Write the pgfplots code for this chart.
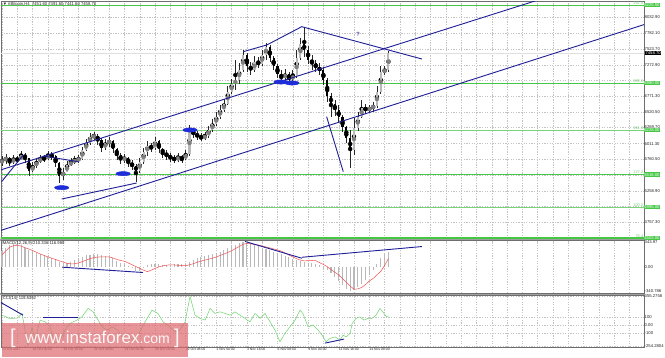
\documentclass[border=0pt]{standalone}
\usepackage{fontspec}
\setmainfont{Liberation Sans}
\usepackage{pgfplots}
\pgfplotsset{compat=1.18}
\usepackage{pgfplotstable}

\definecolor{navyl}{RGB}{30,30,150}
\definecolor{fibg}{RGB}{70,200,70}
\definecolor{fibl}{RGB}{120,210,120}
\definecolor{gridc}{RGB}{195,195,195}
\definecolor{framec}{RGB}{110,110,110}
\definecolor{macdh}{RGB}{185,185,185}
\definecolor{sigred}{RGB}{240,80,80}
\definecolor{ccig}{RGB}{110,210,110}
\definecolor{wm}{RGB}{222,105,110}
\definecolor{ellb}{RGB}{30,45,215}

\pgfplotstableread{
t o h l c
0 5702 5814 5654 5750
2 5750 5846 5686 5782
4 5782 5798 5654 5718
6 5718 5830 5686 5766
8 5766 5814 5702 5750
10 5750 5894 5750 5830
12 5830 5862 5702 5782
14 5782 5782 5494 5574
16 5574 5718 5558 5654
18 5654 5782 5622 5718
20 5718 5830 5702 5782
22 5782 5830 5718 5766
24 5766 5894 5750 5830
26 5830 5878 5750 5814
28 5814 5830 5638 5702
30 5702 5718 5382 5494
32 5494 5622 5430 5558
34 5558 5734 5558 5670
36 5670 5782 5654 5718
38 5718 5814 5686 5750
40 5750 5830 5702 5766
42 5766 5958 5750 5910
44 5910 6086 5894 6022
46 6022 6182 5990 6118
48 6118 6198 6070 6134
50 6134 6166 5990 6070
52 6070 6102 5878 5942
54 5942 6086 5910 6022
56 6022 6118 5958 6054
58 6054 6070 5862 5926
60 5926 5942 5750 5830
62 5830 5862 5686 5750
64 5750 5846 5702 5782
66 5782 5798 5638 5702
68 5702 5750 5590 5654
70 5654 5686 5398 5574
72 5574 5782 5542 5718
74 5718 5942 5686 5878
76 5878 6054 5814 5974
78 5974 6022 5878 5942
80 5942 6118 5910 6054
82 6054 6070 5862 5926
84 5926 5942 5782 5862
86 5862 5910 5750 5814
88 5814 5862 5718 5782
90 5782 5830 5702 5750
92 5750 5862 5718 5798
94 5798 5830 5702 5766
96 5766 5910 5750 5846
98 5846 6310 5814 6198
100 6198 6262 6102 6182
102 6182 6214 6070 6118
104 6118 6182 6054 6102
106 6102 6198 6070 6134
108 6134 6294 6102 6230
110 6230 6406 6198 6326
112 6326 6518 6294 6438
114 6438 6630 6406 6550
116 6550 6726 6518 6646
118 6646 6934 6630 6838
120 6838 7046 6806 6966
122 6966 7350 6870 7030
124 7030 7302 6966 7190
126 7190 7510 7158 7430
128 7430 7462 7158 7254
130 7254 7318 7110 7190
132 7190 7414 7158 7318
134 7318 7398 7222 7286
136 7286 7510 7254 7430
138 7430 7622 7350 7558
140 7558 7590 7318 7382
142 7382 7414 7190 7254
144 7254 7286 7062 7126
146 7126 7190 6966 7062
148 7062 7206 6998 7126
150 7126 7158 6966 7046
152 7046 7190 7014 7094
154 7094 7510 7062 7382
156 7382 7702 7350 7606
158 7606 7878 7398 7510
160 7510 7574 7286 7350
162 7350 7430 7190 7302
164 7302 7350 7158 7222
166 7222 7302 7110 7190
168 7190 7238 6950 7030
170 7030 7062 6678 6774
172 6774 6822 6438 6646
174 6646 6710 6454 6550
176 6550 6630 6342 6438
178 6438 6470 6198 6278
180 6278 6294 6022 6102
182 6102 6230 5622 5910
184 5910 6422 5830 6262
186 6262 6518 6214 6438
188 6438 6710 6422 6582
190 6582 6646 6486 6550
192 6550 6630 6502 6582
194 6582 6678 6518 6614
196 6614 6934 6582 6838
198 6838 7254 6806 7158
200 7158 7254 7110 7190
202 7190 7491.6 7158 7458.7
}\candles

\pgfplotstableread{
t hist sig
0 225 170
2 260 225
4 300 275
6 318 295
8 328 302
10 305 290
12 265 268
14 235 250
16 220 228
18 200 205
20 180 180
22 160 160
24 140 140
26 122 122
28 104 104
30 75 85
32 55 68
34 58 52
36 65 42
38 90 45
40 125 55
42 145 75
44 160 95
46 170 115
48 178 130
50 180 138
52 172 140
54 155 140
56 138 140
58 118 125
60 85 105
62 60 90
64 35 80
66 8 55
68 -20 30
70 -55 5
72 -60 -18
74 -20 -45
76 25 -65
78 42 -45
80 40 -20
82 35 2
84 30 15
86 30 25
88 32 30
90 35 28
92 38 24
94 42 20
96 46 17
98 75 30
100 95 45
102 120 65
104 140 82
106 155 95
108 170 108
110 185 123
112 200 138
114 215 160
116 240 180
118 265 202
120 285 225
122 310 255
124 335 285
126 344 315
128 340 328
130 335 322
132 315 312
134 290 305
136 270 292
138 250 278
140 235 265
142 215 250
144 195 238
146 175 220
148 155 195
150 135 165
152 110 140
154 95 115
156 80 95
158 70 85
160 60 88
162 52 90
164 42 88
166 31 60
168 5 35
170 -40 5
172 -90 -35
174 -143 -75
176 -195 -110
178 -250 -160
180 -300 -215
182 -341 -265
184 -320 -310
186 -285 -305
188 -235 -285
190 -175 -245
192 -110 -195
194 -45 -160
196 40 -110
198 130 -60
200 180 20
202 210.336 116.98
}\macd

\pgfplotstableread{
t cci
0 124
4 84
8 87
10.5 145
12 -60
13.6 -254.28
15.7 -20
17.3 -183
19.9 63
22.5 42
25.1 -20
27.7 -224
30.3 -183
32.9 -60
35.5 22
39.2 63
41.8 103
45 207
47.6 165
49.7 84
52.3 -20
54.9 -60
57.5 -20
60.6 -60
62.7 -143
65.9 -101
68 -183
70.6 -143
72.1 -81
74.8 42
78.4 186
81.5 145
84.2 42
87.8 -20
90.4 -81
93 -60
95.7 42
98.3 355.28
100.9 124
103.5 84
106.2 63
108.8 207
111.3 145
114 165
116.6 145
119.2 124
121.8 165
124.4 124
127 84
129.6 42
132.3 145
134.9 84
137.5 145
140.1 42
142.7 -60
145.3 -204
147.9 -101
150.5 -20
153.2 63
155.8 186
157.3 145
160 -20
162.6 1
165.2 -60
167.3 -122
169.4 -204
171.5 -162
174.1 -143
176.7 -183
178.3 -122
179.9 -143
182 -101
183 22
185.1 84
187.1 103
189.2 63
191.3 84
193.4 84
195.5 124
197.6 207
199.7 145
201 103
202 115.84
}\cci

\pgfplotsset{
  mt4/.style={
    scale only axis, width=643pt, anchor=south west,
    xmin=-0.52, xmax=335.6,
    axis line style={framec, line width=0.6pt},
    grid=major,
    major grid style={gridc, dash pattern=on 1.3pt off 1.3pt, line width=0.35pt},
    xtick={0,8,...,336}, xticklabels={},
    major tick length=0pt,
    ytick pos=right, yticklabel pos=right,
    ticklabel style={font=\fontsize{4.2}{5}\selectfont, text=black!85},
    yticklabel style={anchor=west, xshift=-0.5pt, inner sep=1pt},
    clip mode=individual,
  },
}
\tikzset{panellab/.style={anchor=north west, font=\fontsize{4.2}{5}\selectfont, text=black!85, inner sep=1pt}}

\begin{document}
\begin{tikzpicture}
\useasboundingbox (0,0) rectangle (665pt,357pt);
\fill[white] (0,0) rectangle (665pt,357pt);
% panel separators
\fill[gray!75] (0,116.5pt) rectangle (644.5pt,118.5pt);
\fill[gray!75] (0,62pt) rectangle (644.5pt,64pt);

% ---------------- main price panel
\begin{axis}[mt4, at={(1pt,118.5pt)}, height=237pt, ymin=4494, ymax=8286,
  ytick={8032.9,7782.1,7523.7,7272.9,7022.1,6771.3,6520.5,6269.7,6011.3,5760.5,5509.7,5258.9,5007.1,4757.3},
  yticklabels={8032.90,7782.10,7523.70,7272.90,,6771.30,6520.50,6269.70,6011.30,5760.50,,5258.90,,4757.30},
  extra y ticks={8225.5,6980,6228,5516,4995,4503},
  extra y tick labels={8225.50,6980.00,6228.00,5516.00,4995.00,4503.00},
  extra y tick style={grid=none, yticklabel style={fill=fibg, text=white, inner sep=0.7pt}},
]
% current price line
\addplot[gray!25, line width=0.9pt, forget plot] coordinates {(-1,7458.7) (340,7458.7)};
% fibonacci levels
\addplot[fibg, line width=1pt, forget plot] coordinates {(-1,8225.5) (340,8225.5)};
\addplot[fibg, line width=1pt, forget plot] coordinates {(-1,6980) (340,6980)};
\addplot[fibl, line width=1pt, forget plot] coordinates {(-1,6228) (340,6228)};
\addplot[fibg, line width=1pt, forget plot] coordinates {(-1,5516) (340,5516)};
\addplot[fibl, line width=1pt, forget plot] coordinates {(-1,4995) (340,4995)};
\addplot[fibg, line width=1.2pt, forget plot] coordinates {(-1,4503) (340,4503)};
% candle wicks
\addplot[black, only marks, mark=none, forget plot,
  error bars/.cd, y dir=both, y explicit, error mark=none,
  error bar style={line width=0.55pt, black!85}]
  table[x=t, y expr={(\thisrow{h}+\thisrow{l})/2}, y error expr={(\thisrow{h}-\thisrow{l})/2}] {\candles};
% up bodies
\addplot[gray, only marks, mark=none, forget plot,
  restrict expr to domain={\thisrow{c}-\thisrow{o}}{0.001:100000},
  error bars/.cd, y dir=both, y explicit, error mark=none,
  error bar style={line width=2.1pt, gray!55}]
  table[x=t, y expr={(\thisrow{o}+\thisrow{c})/2}, y error expr={abs(\thisrow{c}-\thisrow{o})/2}] {\candles};
% down bodies
\addplot[black, only marks, mark=none, forget plot,
  restrict expr to domain={\thisrow{o}-\thisrow{c}}{0.001:100000},
  error bars/.cd, y dir=both, y explicit, error mark=none,
  error bar style={line width=2.1pt, black}]
  table[x=t, y expr={(\thisrow{o}+\thisrow{c})/2}, y error expr={abs(\thisrow{c}-\thisrow{o})/2}] {\candles};
% trend lines
\addplot[navyl, line width=0.9pt] coordinates {(-0.6,5592) (278.6,8294)};
\addplot[navyl, line width=0.9pt] coordinates {(-0.6,4624) (336,7920)};
\addplot[navyl, line width=0.9pt] coordinates {(-0.2,5403) (11.1,5830)};
\addplot[navyl, line width=0.9pt] coordinates {(21.6,5814) (39.9,5723)};
\addplot[navyl, line width=0.9pt] coordinates {(31.2,5126) (70.4,5382)};
\addplot[navyl, line width=0.9pt] coordinates {(126.1,7483) (138.4,7590) (156.7,7883) (219.5,7366)};
\addplot[navyl, line width=0.9pt] coordinates {(169.7,6443) (178.4,5563)};
% marked lows / highs
\addplot[only marks, mark=*, mark size=2.1pt, mark options={fill=ellb, draw=ellb, xscale=3.4}]
  coordinates {(31.2,5307) (63.3,5531) (98.3,6230) (145.8,6998) (151.6,6982)};
\node[text=navyl, font=\fontsize{6}{7}\selectfont] at (axis cs:186.1,7760) {?};
% fib texts
\node[anchor=south east, text=fibl, font=\fontsize{4}{5}\selectfont, inner sep=0.5pt] at (axis cs:335.6,8225.5) {261.8};
\node[anchor=south east, text=fibl, font=\fontsize{4}{5}\selectfont, inner sep=0.5pt] at (axis cs:335.6,6980) {200.0};
\node[anchor=south east, text=fibl, font=\fontsize{4}{5}\selectfont, inner sep=0.5pt] at (axis cs:335.6,6228) {161.8};
\node[anchor=south east, text=fibl, font=\fontsize{4}{5}\selectfont, inner sep=0.5pt] at (axis cs:335.6,5516) {127.2};
\node[anchor=south east, text=fibl, font=\fontsize{4}{5}\selectfont, inner sep=0.5pt] at (axis cs:335.6,4995) {100.0};
\node[anchor=south east, text=fibl, font=\fontsize{4}{5}\selectfont, inner sep=0.5pt] at (axis cs:335.6,4503) {76.4};
% current price label
\node[anchor=west, fill=black, text=white, font=\fontsize{4.2}{5}\selectfont, inner sep=0.8pt, xshift=0.5pt] at (axis cs:335.6,7458.7) {7458.70};
\node[panellab] at (rel axis cs:0,1) {\,▼ \#Bitcoin,H4\ \ 7451.60 7491.60 7441.60 7458.70};
\end{axis}

% ---------------- MACD panel
\begin{axis}[mt4, at={(1pt,64pt)}, height=52.5pt, ymin=-362, ymax=368,
  ytick={343.97,0,-340.786}, yticklabels={343.97,0.00,-340.786},
  ymajorgrids=false,
]
\addplot[ycomb, macdh, line width=1.1pt, forget plot] table[x=t, y=hist] {\macd};
\addplot[sigred, line width=0.5pt] table[x=t, y=sig] {\macd};
\addplot[navyl, line width=0.9pt] coordinates {(31.4,-3) (73.7,-77)};
\addplot[navyl, line width=0.9pt] coordinates {(127,355) (156.8,121)};
\addplot[navyl, line width=0.9pt] coordinates {(156.8,135) (219.5,284)};
\node[panellab] at (rel axis cs:0,1) {\,MACD(12,26,9) 210.336 116.980};
\end{axis}

% ---------------- CCI panel
\begin{axis}[mt4, at={(1pt,10pt)}, height=52pt, ymin=-268, ymax=372,
  ytick={355.2758,100,0,-100,-254.2804},
  yticklabels={355.2758,100,0.00,-100,-254.2804},
  xticklabels={13 Oct 2017,,16 Oct 00:00,,18 Oct 16:00,,21 Oct 08:00,,24 Oct 00:00,,26 Oct 16:00,,29 Oct 08:00,,1 Nov 00:00,,3 Nov 16:00,,6 Nov 08:00,,9 Nov 00:00,,11 Nov 16:00,,14 Nov 08:00},
  xticklabel style={anchor=north west, xshift=-0.8pt, inner sep=0.8pt, font=\fontsize{3.4}{4.5}\selectfont},
]
\addplot[ccig, line width=0.5pt] table[x=t, y=cci] {\cci};
\addplot[navyl, line width=0.9pt] coordinates {(-0.6,280) (11,124)};
\addplot[navyl, line width=0.9pt] coordinates {(21.4,100) (39.7,100)};
\addplot[navyl, line width=0.9pt] coordinates {(168.8,-220) (178.8,-171)};
\node[panellab] at (rel axis cs:0,1) {\,CCI(14) 115.8392};
\end{axis}

% ---------------- watermark
\fill[wm, opacity=0.7] (2pt,0pt) rectangle (188pt,34pt);
\node[anchor=base west, text=white, opacity=0.92, inner sep=0pt, font=\fontsize{20}{20}\selectfont] at (10pt,14pt) {[};
\node[anchor=base west, text=white, opacity=0.92, inner sep=0pt] at (25pt,14pt) {\fontsize{17}{17}\selectfont www.instaforex\fontsize{14}{14}\selectfont.com};
\node[anchor=base west, text=white, opacity=0.92, inner sep=0pt, font=\fontsize{20}{20}\selectfont] at (174pt,14pt) {]};
\end{tikzpicture}
\end{document}
